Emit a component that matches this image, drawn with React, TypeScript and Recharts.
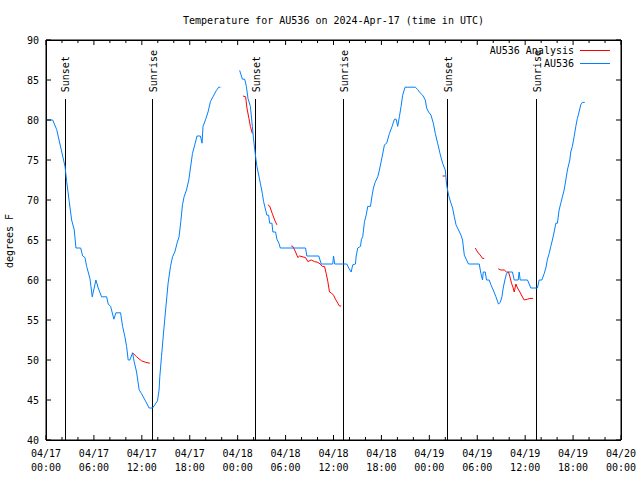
import { LineChart, Line, XAxis, YAxis, ReferenceLine, Legend } from "recharts";

// hours since 04/17 00:00 UTC, temperature in degrees F
const au536Seg1: [number, number][] = [
  [0, 80], [0.84, 80], [1.34, 78.8], [2.38, 74.2], [2.59, 72.3], [2.91, 69.8], [3.21, 67.5],
  [3.54, 66.25], [3.75, 64], [4.34, 64], [4.59, 63], [4.88, 62.8], [5.09, 61.7], [5.5, 60.2],
  [5.79, 57.9], [6.25, 60], [6.54, 59], [6.96, 57.9], [7.59, 57.9], [7.79, 57], [8.09, 56.7],
  [8.5, 55.1], [8.75, 55.9], [9.34, 55.9], [9.59, 54.2], [9.88, 52.9], [10.09, 51.7], [10.29, 50],
  [10.5, 50], [10.84, 50.9], [11.04, 49.8], [11.34, 48.5], [11.66, 46.3], [11.96, 45.8],
  [12.5, 44.8], [12.91, 44], [13.34, 44], [13.63, 44.4], [13.96, 44.9], [14.16, 46.25],
  [14.25, 47.9], [14.46, 50.4], [14.75, 53.75], [15, 56.5], [15.29, 59.6], [15.59, 61.7],
  [15.84, 62.9], [16.13, 63.5], [16.41, 64.6], [16.66, 65.4], [16.88, 67.3], [17.09, 69.4],
  [17.29, 70.4], [17.59, 71.25], [17.88, 72.5], [18.34, 75.8], [18.63, 76.9], [18.91, 78],
  [19.34, 78], [19.54, 77.1], [19.66, 79.2], [20, 80.1], [20.29, 81], [20.59, 82.3],
  [20.91, 82.9], [21.34, 83.7], [21.63, 84.1], [21.84, 84.1],
];

const au536Seg2: [number, number][] = [
  [24.25, 86.2], [24.59, 85.1], [24.88, 85.1], [25.09, 84.2], [25.29, 82.7], [25.59, 81.7],
  [25.84, 79.2], [26, 77.5], [26.25, 75.4], [26.41, 74.2], [26.84, 72.1], [27.09, 70.8],
  [27.25, 69.8], [27.5, 68.75], [27.66, 68.1], [27.88, 68.1], [28, 67.1], [28.29, 67.1],
  [28.41, 66], [28.75, 66], [28.91, 65.1], [29.16, 64.6], [29.34, 64], [32.5, 64], [32.66, 63],
  [34.16, 63], [34.46, 62], [35.91, 62], [36, 63], [36.16, 62], [37.66, 62], [37.91, 61.5],
  [38.21, 61], [38.41, 61.9], [38.75, 62], [38.84, 63], [39.04, 64], [39.38, 64.2], [39.5, 65.1],
  [39.66, 65.4], [39.88, 67.3], [40.09, 68.1], [40.29, 69.2], [40.63, 69.2], [40.84, 70.6],
  [41, 71.5], [41.21, 72.2], [41.54, 72.9], [41.75, 73.75], [42.09, 75.4], [42.38, 76.9],
  [42.66, 77.1], [43, 78.3], [43.34, 79.2], [43.63, 80.1], [43.84, 80.1], [44.04, 79.2],
  [44.25, 80.4], [44.46, 81.7], [44.66, 83.1], [44.96, 84.1], [46.25, 84.1], [46.54, 83.8],
  [46.84, 83.4], [47.16, 83.1], [47.5, 82.5], [47.66, 81.5], [47.91, 81], [48.21, 80.6],
  [48.5, 79.6], [48.75, 78.3], [49.04, 77.1], [49.34, 75.8], [49.66, 74.6], [50, 73.75],
  [50.16, 71.9], [50.41, 70.6], [50.71, 69.6], [50.91, 69], [51.13, 67.9], [51.34, 66.9],
  [51.66, 66.25], [51.96, 65.6], [52.16, 65], [52.38, 63.1], [52.66, 62.5], [52.91, 62],
  [54.25, 62], [54.46, 60.8], [54.66, 60], [54.75, 61], [55, 61], [55.16, 60], [55.5, 60],
  [55.71, 59.4], [56, 58.75], [56.34, 57.9], [56.66, 57], [56.88, 57.2], [57.09, 57.9],
  [57.25, 59], [57.46, 60], [57.66, 60.8], [57.91, 61], [58.41, 61], [58.63, 60], [59.13, 60],
  [59.25, 61], [59.38, 60], [60.29, 60], [60.5, 59.5], [60.71, 59], [61.54, 59], [61.75, 60],
  [62.09, 60], [62.38, 60.8], [62.59, 61.5], [62.79, 62.6], [63, 63.3], [63.21, 64.2],
  [63.41, 65], [63.63, 66], [63.84, 67.1], [64.04, 67.1], [64.25, 68.75], [64.46, 69.6],
  [64.66, 70.4], [64.88, 71.25], [65.09, 72.5], [65.29, 73.75], [65.59, 75], [65.71, 76],
  [65.91, 76.7], [66.13, 77.9], [66.34, 79.2], [66.54, 80.2], [66.75, 81], [66.96, 81.9],
  [67.16, 82.2], [67.46, 82.2],
];

const analysisSeg1: [number, number][] = [[10.84, 50.9], [11.34, 50.4], [11.96, 49.9], [12.5, 49.7], [13, 49.6]];
const analysisSeg2: [number, number][] = [[24.66, 83], [25, 82.9], [25.16, 81.5], [25.41, 80.2], [25.59, 79.2], [25.84, 78.3]];
const analysisSeg3: [number, number][] = [[27.79, 69.4], [28, 69.25], [28.34, 68.3], [28.63, 67.5], [28.91, 66.9]];
const analysisSeg4: [number, number][] = [
  [30.71, 64.25], [30.91, 64.2], [31.25, 63.5], [31.54, 62.8], [31.75, 63], [32.5, 62.8],
  [32.79, 62.3], [33.21, 62.5], [33.63, 62.3], [34.04, 62.2], [34.34, 62], [34.59, 61.7],
  [34.88, 61.7], [35.09, 60.8], [35.29, 59.8], [35.5, 58.5], [35.71, 58.4], [36, 58.1],
  [36.25, 57.6], [36.54, 57.1], [36.75, 56.75], [36.96, 56.75],
];
const analysisSeg5: [number, number][] = [[49.66, 73], [50, 73]];
const analysisSeg6: [number, number][] = [[53.75, 64], [54.04, 63.5], [54.46, 63], [54.66, 62.7], [54.88, 62.7]];
const analysisSeg7: [number, number][] = [
  [56.63, 61.4], [56.96, 61.25], [57.38, 61.25], [57.66, 61], [57.91, 61], [58.09, 60.4],
  [58.29, 59.6], [58.5, 59], [58.63, 58.5], [58.84, 59.5], [59.04, 59], [59.34, 58.5],
  [59.59, 58], [59.88, 57.5], [60.29, 57.6], [60.59, 57.7], [61, 57.7],
];

const sunHours = [2.41, 13.34, 26.29, 37.29, 50.29, 61.46];
const sunLabels = ["Sunset", "Sunrise", "Sunset", "Sunrise", "Sunset", "Sunrise"];

const xTickHours = [0, 2, 4, 6, 8, 10, 12, 14, 16, 18, 20, 22, 24, 26, 28, 30, 32, 34, 36,
  38, 40, 42, 44, 46, 48, 50, 52, 54, 56, 58, 60, 62, 64, 66, 68, 70, 72];
const xLabelHours = [0, 6, 12, 18, 24, 30, 36, 42, 48, 54, 60, 66, 72];
const xLabelDates = ["04/17", "04/17", "04/17", "04/17", "04/18", "04/18", "04/18", "04/18",
  "04/19", "04/19", "04/19", "04/19", "04/20"];
const xLabelTimes = ["00:00", "06:00", "12:00", "18:00", "00:00", "06:00", "12:00", "18:00",
  "00:00", "06:00", "12:00", "18:00", "00:00"];
const yTicks = [40, 45, 50, 55, 60, 65, 70, 75, 80, 85, 90];

const FONT = "'DejaVu Sans Mono', monospace";
const BLUE = "#0080ff";
const RED = "#ff0000";

function toRows(segments: [number, number][][]) {
  const rows: { t: number; v: number | null }[] = [];
  segments.forEach((seg, i) => {
    if (i > 0) rows.push({ t: seg[0][0], v: null });
    seg.forEach(([t, v]) => rows.push({ t, v }));
  });
  return rows;
}

const au536Rows = toRows([au536Seg1, au536Seg2]);
const analysisRows = toRows([analysisSeg1, analysisSeg2, analysisSeg3, analysisSeg4, analysisSeg5, analysisSeg6, analysisSeg7]);

function BottomTick({ x, y, payload }: any) {
  const h = payload.value;
  const idx = xLabelHours.indexOf(h);
  return (
    <g>
      <path d={`M${x},${y}V${y - (idx >= 0 ? 5 : 3)}`} stroke="#000" strokeWidth={1} fill="none" />
      {idx >= 0 && (
        <text x={x} y={y + 17} textAnchor="middle" fontFamily={FONT} fontSize={10} fill="#000">
          <tspan x={x}>{xLabelDates[idx]}</tspan>
          <tspan x={x} dy={14}>{xLabelTimes[idx]}</tspan>
        </text>
      )}
    </g>
  );
}

function TopTick({ x, y, payload }: any) {
  const major = xLabelHours.includes(payload.value);
  return <path d={`M${x},${y}V${y + (major ? 5 : 3)}`} stroke="#000" strokeWidth={1} fill="none" />;
}

function LeftTick({ x, y, payload }: any) {
  return (
    <g>
      <path d={`M${x},${y}H${x + 5}`} stroke="#000" strokeWidth={1} fill="none" />
      <text x={x - 7} y={y} dy="0.35em" textAnchor="end" fontFamily={FONT} fontSize={10} fill="#000">
        {payload.value}
      </text>
    </g>
  );
}

function RightTick({ x, y }: any) {
  return <path d={`M${x},${y}H${x - 5}`} stroke="#000" strokeWidth={1} fill="none" />;
}

function SunLabel({ viewBox, text }: any) {
  const x = viewBox.x + 4;
  const y = viewBox.y - 7;
  return (
    <text x={x} y={y} transform={`rotate(-90 ${x} ${y})`} textAnchor="start" fontFamily={FONT} fontSize={10} fill="#000">
      {text}
    </text>
  );
}

function LegendBox() {
  const rows = [
    { name: "AU536 Analysis", color: RED, y: 50 },
    { name: "AU536", color: BLUE, y: 63 },
  ];
  return (
    <svg width={640} height={80} style={{ position: "absolute", left: 0, top: 0 }}>
      {rows.map((r) => (
        <g key={r.name}>
          <text x={574} y={r.y} dy="0.35em" textAnchor="end" fontFamily={FONT} fontSize={10} fill="#000">
            {r.name}
          </text>
          <line x1={580} x2={610} y1={r.y} y2={r.y} stroke={r.color} shapeRendering="crispEdges" />
        </g>
      ))}
    </svg>
  );
}

export default function App() {
  return (
    <div style={{ width: 640, height: 480, background: "#fff" }}>
      <style>{`body { margin: 0; }`}</style>
      <LineChart width={640} height={480} margin={{ top: 39, right: 0, bottom: 0, left: 0 }}>
        <XAxis
          dataKey="t"
          type="number"
          domain={[0, 72]}
          ticks={xTickHours}
          interval={0}
          height={40}
          tickSize={0}
          tickMargin={0}
          tickLine={false}
          tick={<BottomTick />}
          stroke="#000"
          axisLine={{ stroke: "#000" }}
          allowDataOverflow
        />
        <XAxis
          xAxisId="top"
          dataKey="t"
          type="number"
          orientation="top"
          domain={[0, 72]}
          ticks={xTickHours}
          interval={0}
          height={1}
          tickSize={0}
          tickMargin={0}
          tickLine={false}
          tick={<TopTick />}
          stroke="#000"
          axisLine={{ stroke: "#000" }}
          allowDataOverflow
          label={{
            content: ({ viewBox }: any) => (
              <text x={viewBox.x + viewBox.width / 2} y={24} textAnchor="middle" fontFamily={FONT} fontSize={10} fill="#000">
                Temperature for AU536 on 2024-Apr-17 (time in UTC)
              </text>
            ),
          }}
        />
        <YAxis
          yAxisId="left"
          type="number"
          domain={[40, 90]}
          ticks={yTicks}
          interval={0}
          width={46}
          tickSize={0}
          tickMargin={0}
          tickLine={false}
          tick={<LeftTick />}
          stroke="#000"
          axisLine={{ stroke: "#000" }}
          allowDataOverflow
          label={{
            content: () => (
              <text x={13} y={241} transform="rotate(-90 13 241)" textAnchor="middle" fontFamily={FONT} fontSize={10} fill="#000">
                degrees F
              </text>
            ),
          }}
        />
        <YAxis
          yAxisId="right"
          orientation="right"
          type="number"
          domain={[40, 90]}
          ticks={yTicks}
          interval={0}
          width={19}
          tickSize={0}
          tickMargin={0}
          tickLine={false}
          tick={<RightTick />}
          stroke="#000"
          axisLine={{ stroke: "#000" }}
          allowDataOverflow
        />
        {/* plot frame */}
        <ReferenceLine yAxisId="left" x={0} stroke="#000" shapeRendering="crispEdges" />
        <ReferenceLine yAxisId="left" x={72} stroke="#000" shapeRendering="crispEdges" />
        <ReferenceLine yAxisId="left" y={40} stroke="#000" shapeRendering="crispEdges" />
        <ReferenceLine yAxisId="left" y={90} stroke="#000" shapeRendering="crispEdges" />
        {sunHours.map((h, i) => (
          <ReferenceLine
            key={`sun-${i}`}
            yAxisId="left"
            segment={[{ x: h, y: 40 }, { x: h, y: 82.6 }]}
            stroke="#000"
            shapeRendering="crispEdges"
            label={<SunLabel text={sunLabels[i]} />}
          />
        ))}
        <Line
          yAxisId="left"
          data={analysisRows}
          dataKey="v"
          name="AU536 Analysis"
          type="linear"
          stroke={RED}
          strokeWidth={1}
          dot={false}
          activeDot={false}
          connectNulls={false}
          isAnimationActive={false}
        />
        <Line
          yAxisId="left"
          data={au536Rows}
          dataKey="v"
          name="AU536"
          type="linear"
          stroke={BLUE}
          strokeWidth={1}
          dot={false}
          activeDot={false}
          connectNulls={false}
          isAnimationActive={false}
        />
        <Legend
          layout="vertical"
          align="center"
          verticalAlign="middle"
          wrapperStyle={{ left: 0, top: 0, width: 640, height: 80 }}
          content={() => <LegendBox />}
        />
      </LineChart>
    </div>
  );
}
